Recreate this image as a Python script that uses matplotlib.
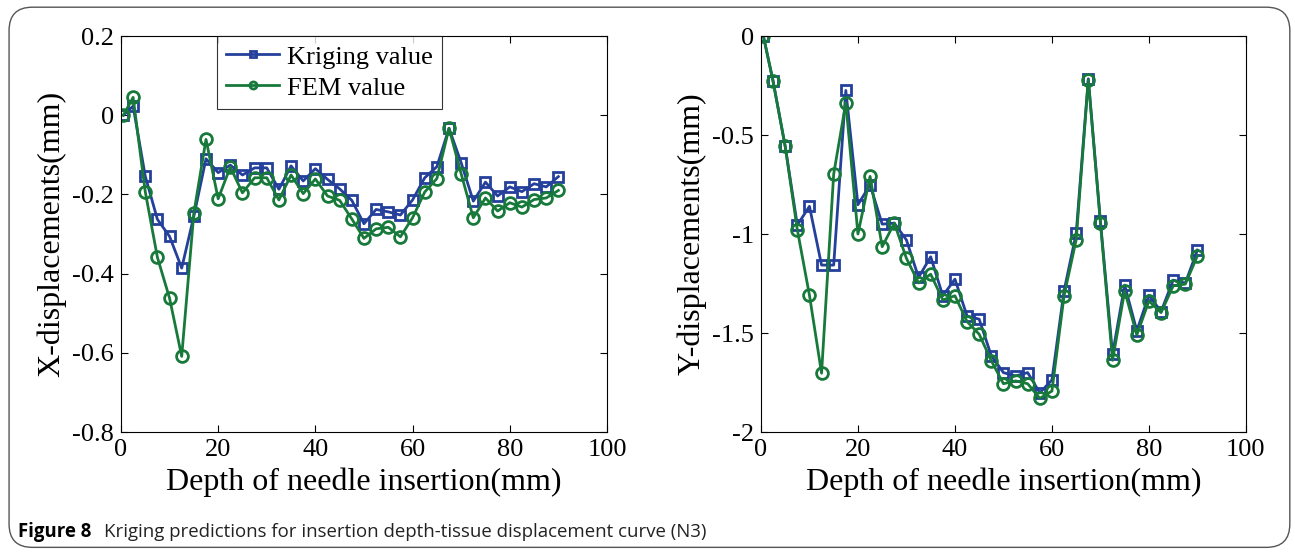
import numpy as np
import matplotlib.pyplot as plt
from matplotlib.patches import FancyBboxPatch

# depth of needle insertion (mm)
depth = [0.5, 2.5, 5, 7.5, 10, 12.5, 15, 17.5, 20, 22.5, 25, 27.5, 30, 32.5, 35, 37.5,
         40, 42.5, 45, 47.5, 50, 52.5, 55, 57.5, 60, 62.5, 65, 67.5, 70, 72.5, 75,
         77.5, 80, 82.5, 85, 87.5, 90]

# X-displacements
x_kriging = [0.0, 0.023, -0.154, -0.263, -0.306, -0.386, -0.255, -0.110, -0.145, -0.126,
             -0.151, -0.133, -0.133, -0.187, -0.128, -0.166, -0.135, -0.162, -0.186,
             -0.215, -0.274, -0.238, -0.244, -0.252, -0.214, -0.158, -0.130, -0.033,
             -0.120, -0.217, -0.169, -0.204, -0.181, -0.193, -0.173, -0.181, -0.155]
x_fem = [0.0, 0.045, -0.193, -0.359, -0.462, -0.609, -0.247, -0.061, -0.211, -0.131,
         -0.196, -0.158, -0.158, -0.214, -0.151, -0.198, -0.161, -0.204, -0.215,
         -0.262, -0.311, -0.287, -0.283, -0.307, -0.259, -0.194, -0.160, -0.033,
         -0.148, -0.259, -0.209, -0.242, -0.221, -0.232, -0.213, -0.209, -0.190]

# Y-displacements
y_kriging = [0.0, -0.228, -0.557, -0.955, -0.860, -1.157, -1.157, -0.275, -0.852, -0.752,
             -0.950, -0.945, -1.030, -1.219, -1.115, -1.312, -1.228, -1.414, -1.430,
             -1.615, -1.700, -1.717, -1.700, -1.802, -1.737, -1.287, -0.997, -0.216,
             -0.936, -1.607, -1.258, -1.489, -1.309, -1.392, -1.233, -1.248, -1.081]
y_fem = [0.0, -0.228, -0.557, -0.978, -1.309, -1.703, -0.697, -0.337, -1.000, -0.709,
         -1.064, -0.945, -1.123, -1.247, -1.203, -1.333, -1.312, -1.442, -1.506,
         -1.640, -1.756, -1.742, -1.756, -1.830, -1.793, -1.312, -1.029, -0.221,
         -0.944, -1.638, -1.287, -1.510, -1.338, -1.397, -1.262, -1.253, -1.110]

blue = '#24409a'
green = '#17793a'
serif = 'Liberation Serif'

fig = plt.figure(figsize=(12.95, 5.54), dpi=100)

# rounded frame around the whole figure
frame = FancyBboxPatch((0.007, 0.012), 0.989, 0.975, boxstyle='round,pad=0,rounding_size=0.018',
                       transform=fig.transFigure, fill=False, edgecolor='#555555', linewidth=1.0,
                       mutation_aspect=1295 / 554)
fig.patches.append(frame)

ax1 = fig.add_axes([0.0934, 0.2202, 0.3753, 0.7148])
ax2 = fig.add_axes([0.5876, 0.2202, 0.3745, 0.7148])


def style(ax, ylabel):
    ax.set_xlim(0, 100)
    ax.set_xticks([0, 20, 40, 60, 80, 100])
    ax.tick_params(direction='in', top=True, right=True, length=5, width=0.8, pad=5)
    for lab in ax.get_xticklabels() + ax.get_yticklabels():
        lab.set_fontfamily(serif)
        lab.set_fontsize(19)
    ax.set_xlabel('Depth of needle insertion(mm)', fontfamily=serif, fontsize=23, labelpad=5)
    ax.set_ylabel(ylabel, fontfamily=serif, fontsize=23, labelpad=4)
    for s in ax.spines.values():
        s.set_linewidth(0.8)


ax1.plot(depth, x_kriging, '-s', color=blue, lw=2, ms=6.5, mfc='none', mew=2, label='Kriging value')
ax1.plot(depth, x_fem, '-o', color=green, lw=2, ms=8.5, mfc='none', mew=2, label='FEM value')
ax1.set_ylim(-0.8, 0.2)
ax1.set_yticks([-0.8, -0.6, -0.4, -0.2, 0, 0.2])
ax1.set_yticklabels(['-0.8', '-0.6', '-0.4', '-0.2', '0', '0.2'])
style(ax1, 'X-displacements(mm)')

leg = ax1.legend(loc='upper left', bbox_to_anchor=(0.198, 1.0, 0.462, 0.0), mode='expand',
                 prop={'family': serif, 'size': 19}, frameon=True, fancybox=False,
                 edgecolor='black', borderaxespad=0, handlelength=2.0, handletextpad=0.3,
                 borderpad=0.35, labelspacing=0.28, markerscale=0.6)
leg.get_frame().set_linewidth(0.8)

ax2.plot(depth, y_kriging, '-s', color=blue, lw=2, ms=6.5, mfc='none', mew=2)
ax2.plot(depth, y_fem, '-o', color=green, lw=2, ms=8.5, mfc='none', mew=2)
ax2.set_ylim(-2, 0)
ax2.set_yticks([-2, -1.5, -1, -0.5, 0])
ax2.set_yticklabels(['-2', '-1.5', '-1', '-0.5', '0'])
style(ax2, 'Y-displacements(mm)')

fig.text(0.0139, 0.03, 'Figure 8', fontfamily='Open Sans', fontweight='bold', fontsize=13.4,
         va='baseline')
fig.text(0.0805, 0.03, 'Kriging predictions for insertion depth-tissue displacement curve (N3)',
         fontfamily='Open Sans', fontsize=13.4, va='baseline', color='#222222')

fig.savefig('out.png', dpi=100)
